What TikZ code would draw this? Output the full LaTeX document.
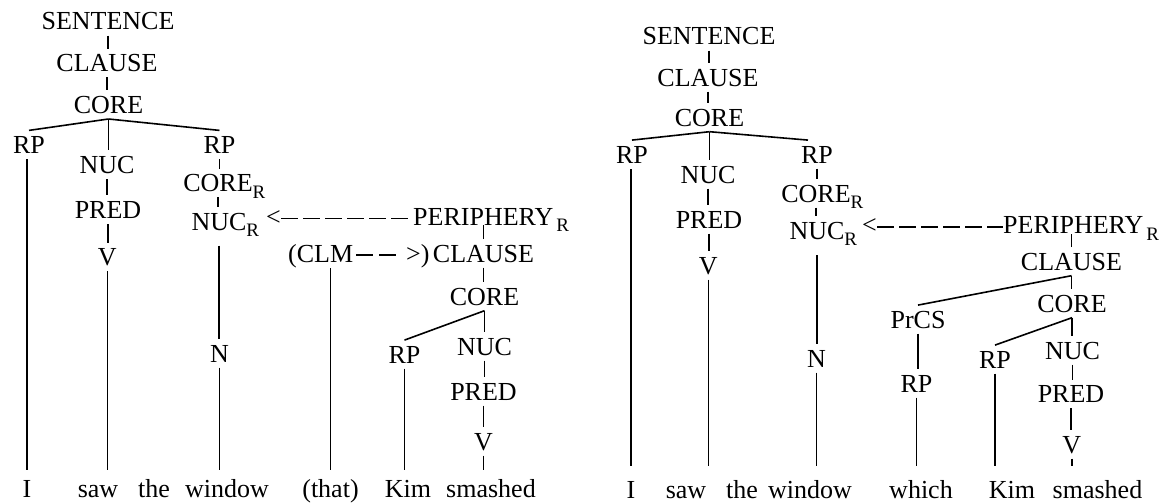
\documentclass[tikz,border=0pt]{standalone}
\usepackage{fontspec}
\setmainfont{Liberation Serif}
\newcommand{\subR}{\raisebox{-6.5pt}{\fontsize{19}{19}\selectfont R}}
\begin{document}
\begin{tikzpicture}[x=1pt,y=-1pt,
  lab/.style={font=\fontsize{26}{30}\selectfont, inner xsep=0pt, inner ysep=5.5pt, text height=17.2pt, text depth=0pt, anchor=base},
  word/.style={lab, inner ysep=10pt},
  rword/.style={lab, inner ysep=15pt},
  edge/.style={line width=1.6pt},
  dsh/.style={line width=1.3pt, dash pattern=on 16.5pt off 5.5pt},
  dshb/.style={line width=1.3pt, dash pattern=on 17pt off 6pt}]
\useasboundingbox (0,0) rectangle (1159,503);
% ---------- left tree ----------
\node[lab] (s1) at (108,30) {SENTENCE};
\node[lab] (c1) at (107,71.7) {CLAUSE};
\node[lab] (co1) at (108.5,113.3) {CORE};
\node[lab] (rpa) at (29,153.3) {RP};
\node[lab] (nuc1) at (107,173.3) {NUC};
\node[lab] (pred1) at (108,218.3) {PRED};
\node[lab] (v1) at (107.3,265.5) {V};
\node[lab] (rpb) at (219.5,153.3) {RP};
\node[lab] (corer1) at (218,191.7) {CORE\rlap{\subR}};
\node[lab] (nucr1) at (219,230) {NUC\rlap{\subR}};
\node[lab] (n1) at (219.5,362) {N};
\node[lab,anchor=base west] (lt1) at (266,225) {<};
\node[lab,anchor=base west] (peri1) at (413,225) {PERIPHERY\rlap{\hspace{3pt}\subR}};
\node[lab,anchor=base west] (clm) at (288,262) {(CLM};
\node[lab,anchor=base west] (gt) at (406,262) {>)};
\node[lab] (cl1b) at (483.5,262) {CLAUSE};
\node[lab] (co1b) at (484.5,305) {CORE};
\node[lab] (rpk1) at (404.5,363) {RP};
\node[lab] (nuc1b) at (484.5,355) {NUC};
\node[lab] (pred1b) at (483.5,400) {PRED};
\node[lab] (v1b) at (483.5,450) {V};
\node[word] (wI1) at (27,497) {I};
\node[word] (saw1) at (98,497) {saw};
\node[word] (the1) at (154,497) {the};
\node[word] (win1) at (227,497) {window};
\node[word] (that1) at (330.5,497) {(that)};
\node[word] (kim1) at (408,497) {Kim};
\node[word] (sm1) at (491,497) {smashed};
\draw[edge] (s1.south) -- (s1.south |- c1.north);
\draw[edge] (c1.south) -- (c1.south |- co1.north);
\draw[edge] (co1.south) -- (rpa.north);
\draw[edge] (co1.south) -- (co1.south |- nuc1.north);
\draw[edge] (co1.south) -- (rpb.north);
\draw[edge] (nuc1.south) -- (nuc1.south |- pred1.north);
\draw[edge] (pred1.south) -- (pred1.south |- v1.north);
\draw[edge] (v1.south) -- (v1.south |- saw1.north);
\draw[edge] (wI1.north) -- (wI1.north |- rpa.south);
\draw[edge] (rpb.south) -- (rpb.south |- corer1.north);
\draw[edge] (corer1.south) -- (corer1.south |- nucr1.north);
\draw[edge] ([yshift=-10pt]nucr1.south) -- (nucr1.south |- n1.north);
\draw[edge] (n1.south) -- (n1.south |- win1.north);
\draw[edge] (that1.north) -- (that1.north |- clm.south);
\draw[edge] (cl1b.north) -- (cl1b.north |- peri1.base);
\draw[edge] (cl1b.south) -- (cl1b.south |- co1b.north);
\draw[edge] (co1b.south) -- (rpk1.north);
\draw[edge] (co1b.south) -- (co1b.south |- nuc1b.north);
\draw[edge] (nuc1b.south) -- (nuc1b.south |- pred1b.north);
\draw[edge] (pred1b.south) -- (pred1b.south |- v1b.north);
\draw[edge] (v1b.south) -- (v1b.south |- sm1.north);
\draw[edge] (rpk1.south) -- (rpk1.south |- kim1.north);
\draw[dsh] ([yshift=6.5pt]lt1.base east) -- ([yshift=6.5pt]peri1.base west);
\draw[dshb] ([xshift=3pt,yshift=7pt]clm.base east) -- ([xshift=-6pt,yshift=7pt]gt.base west);
% ---------- right tree ----------
\node[lab] (s2) at (709,45) {SENTENCE};
\node[lab] (c2) at (708,86) {CLAUSE};
\node[lab] (co2) at (709.5,126) {CORE};
\node[lab] (rpa2) at (632,163) {RP};
\node[lab] (nuc2) at (708,183) {NUC};
\node[lab] (pred2) at (709,228) {PRED};
\node[lab] (v2) at (708.3,274) {V};
\node[lab] (rpb2) at (817,163) {RP};
\node[lab] (corer2) at (816,202) {CORE\rlap{\subR}};
\node[lab] (nucr2) at (817,239.3) {NUC\rlap{\subR}};
\node[lab] (n2) at (816.5,367) {N};
\node[lab,anchor=base west] (lt2) at (862,233.5) {<};
\node[lab,anchor=base west] (peri2) at (1003,233.5) {PERIPHERY\rlap{\hspace{3pt}\subR}};
\node[lab] (cl2b) at (1071.5,270) {CLAUSE};
\node[lab] (prcs) at (918,328) {PrCS};
\node[lab] (rpw) at (916.5,392) {RP};
\node[lab] (co2b) at (1072,312) {CORE};
\node[lab] (rpk2) at (995,368) {RP};
\node[lab] (nuc2b) at (1072.5,359) {NUC};
\node[lab] (pred2b) at (1071,402.7) {PRED};
\node[lab] (v2b) at (1071.7,453) {V};
\node[rword] (wI2) at (631,498) {I};
\node[rword] (saw2) at (686,498) {saw};
\node[rword] (the2) at (742,498) {the};
\node[rword] (win2) at (810,498) {window};
\node[rword] (which2) at (921,498) {which};
\node[rword] (kim2) at (1012,498) {Kim};
\node[rword] (sm2) at (1097.5,498) {smashed};
\draw[edge] (s2.south) -- (s2.south |- c2.north);
\draw[edge] (c2.south) -- (c2.south |- co2.north);
\draw[edge] (co2.south) -- (rpa2.north);
\draw[edge] (co2.south) -- (co2.south |- nuc2.north);
\draw[edge] (co2.south) -- ([xshift=-9pt]rpb2.north);
\draw[edge] (nuc2.south) -- (nuc2.south |- pred2.north);
\draw[edge] (pred2.south) -- (pred2.south |- v2.north);
\draw[edge] (v2.south) -- (v2.south |- saw2.north);
\draw[edge] (wI2.north) -- (wI2.north |- rpa2.south);
\draw[edge] (rpb2.south) -- (rpb2.south |- corer2.north);
\draw[edge] (corer2.south) -- (corer2.south |- nucr2.north);
\draw[edge] ([yshift=-10pt]nucr2.south) -- (nucr2.south |- n2.north);
\draw[edge] (n2.south) -- (n2.south |- win2.north);
\draw[edge] (cl2b.north) -- (cl2b.north |- peri2.base);
\draw[edge] (cl2b.south) -- (prcs.north);
\draw[edge] (cl2b.south) -- (cl2b.south |- co2b.north);
\draw[edge] (prcs.south) -- (prcs.south |- rpw.north);
\draw[edge] (rpw.south) -- (rpw.south |- which2.north);
\draw[edge] (co2b.south) -- (rpk2.north);
\draw[edge] (co2b.south) -- (co2b.south |- nuc2b.north);
\draw[edge] (nuc2b.south) -- (nuc2b.south |- pred2b.north);
\draw[edge] (pred2b.south) -- (pred2b.south |- v2b.north);
\draw[edge] (v2b.south) -- (v2b.south |- sm2.north);
\draw[edge] (rpk2.south) -- (rpk2.south |- kim2.north);
\draw[dsh] ([yshift=6.5pt]lt2.base east) -- ([yshift=6.5pt]peri2.base west);
\end{tikzpicture}
\end{document}
